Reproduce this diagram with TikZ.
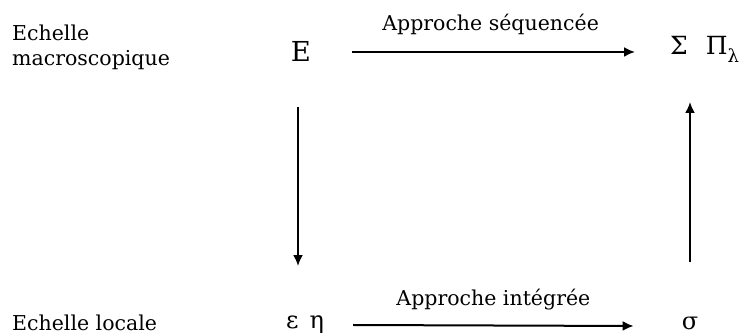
\documentclass[tikz,border=0pt]{standalone}
\usepackage{fontspec}
\setmainfont{DejaVu Serif}
\usetikzlibrary{arrows.meta, calc, positioning}
\newcommand{\lbl}{\fontsize{20.5}{25}\selectfont}
\newcommand{\sym}[1]{\fontsize{#1}{#1}\selectfont}
\newcommand{\sublbl}[1]{\raisebox{-8pt}{\sym{18}#1}}

\begin{document}
\begin{tikzpicture}[>={Latex[length=11pt,width=10pt]}, x=1pt, y=-1pt,
  txt/.style={inner sep=0pt, font=\lbl},
  arr/.style={->, line width=2pt}]
  \useasboundingbox (0,0) rectangle (747,336);
  % scales
  \node[txt, anchor=west, align=left] (macro) at (12,47) {Echelle\\macroscopique};
  \node[txt, anchor=base west] (local) at (12,331) {Echelle locale};
  % quantities
  \node[txt, anchor=base, font=\sym{27.5}] (E) at (301,62) {E};
  \node[txt, anchor=base west, font=\sym{25}] (SP) at (670,55) {Σ\hspace{18pt}Π\sublbl{λ}};
  \node[txt, anchor=base west, font=\sym{24}] (epseta) at (286,329) {ε\hspace{11pt}η};
  \node[txt, anchor=base, font=\sym{24}] (sigma) at (690,330) {σ};
  % sequenced approach
  \draw[arr, shorten <=41pt, shorten >=35pt] (E.east) -- (E.east -| SP.west)
    node[txt, pos=0.5, anchor=base, yshift=21pt] (seq) {Approche séquencée};
  % integrated approach
  \draw[arr] ($(epseta.base east)+(29,-4)$) -- ($(sigma.base west)+(-48,-4)$)
    node[txt, pos=0.5, anchor=base, yshift=20pt] (int) {Approche intégrée};
  % down to local scale
  \draw[arr] ($(E.south)+(-3,45)$) -- ($(E.south |- epseta.north)+(-3,-50)$);
  % back to macroscopic scale
  \draw[arr] ($(sigma.north)+(0,-55)$) -- ($(sigma.north |- SP.base)+(0,47)$);
\end{tikzpicture}
\end{document}
